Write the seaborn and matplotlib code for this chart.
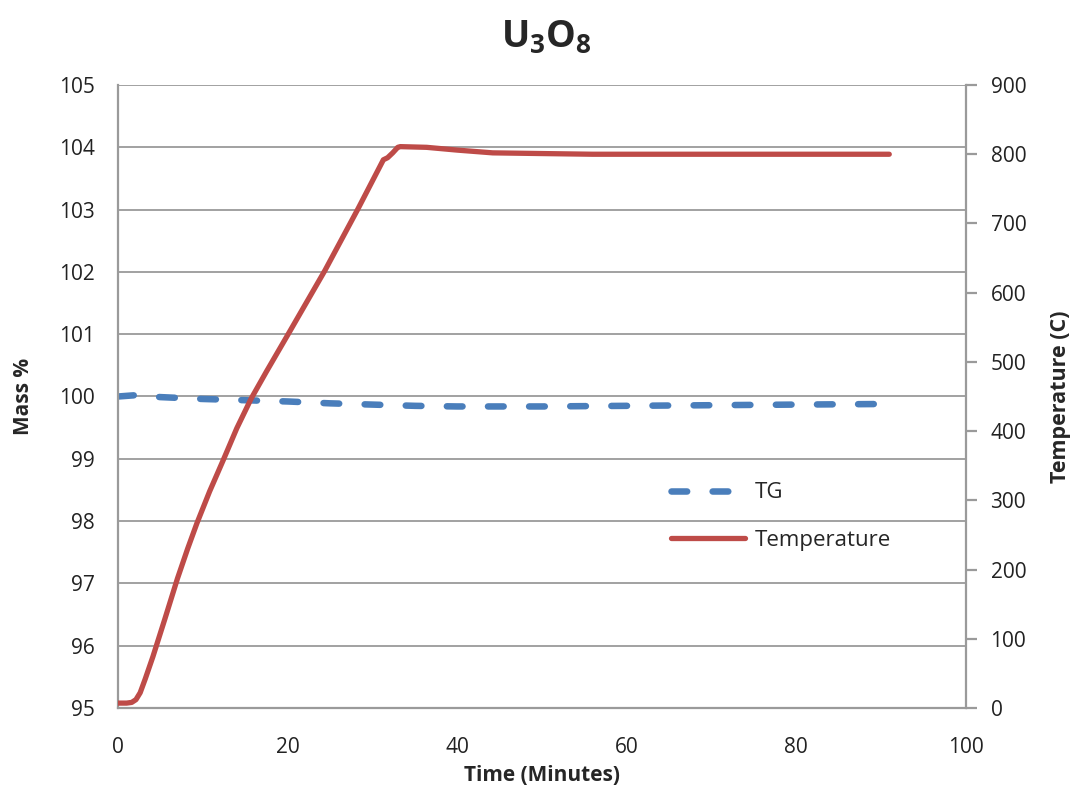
import numpy as np
import pandas as pd
from matplotlib import pyplot as plt
import seaborn as sns

# values
time_temp = [0, 1.0, 1.6, 2.1, 2.6, 3.2, 4.1, 5.5, 7.0, 8.2, 9.3, 10.8, 12.4, 14.0, 15.7,
             17.5, 20.3, 24.4, 28.3, 31.3, 31.8, 32.4, 33.0, 33.3, 36.4, 40.0, 44.2, 50.0,
             56.0, 70.0, 80.0, 91.0]
temperature = [7, 7, 8, 12, 22, 42, 74, 128, 187, 230, 267, 313, 358, 404, 447,
               486, 545, 632, 721, 792, 795, 802, 810, 811, 810, 806, 802, 801,
               800, 800, 800, 800]

time_tg = [0, 2, 5, 10, 15, 20, 25, 30, 35, 40, 50, 60, 70, 80, 91]
mass_pct = [100.0, 100.02, 99.99, 99.96, 99.94, 99.92, 99.89, 99.87, 99.85, 99.84, 99.84, 99.85, 99.86, 99.87, 99.88]

mass_ticks = [95, 96, 97, 98, 99, 100, 101, 102, 103, 104, 105]
temp_ticks = [0, 100, 200, 300, 400, 500, 600, 700, 800, 900]
time_ticks = [0, 20, 40, 60, 80, 100]

sns.set_style("white")
plt.rcParams['font.family'] = ['Open Sans', 'DejaVu Sans']

tg = pd.DataFrame({"time": time_tg, "mass": mass_pct})
tc = pd.DataFrame({"time": time_temp, "temp": temperature})

fig = plt.figure(figsize=(10.74, 7.91), dpi=100)
ax = fig.add_axes([0.110, 0.105, 0.789, 0.7875])
ax2 = ax.twinx()

grid_col = "#9a9a9a"
sns.lineplot(data=tg, x="time", y="mass", ax=ax, color="#4a7ebb", linewidth=4.7,
             label="TG", legend=False)
ax.lines[0].set_dashes([2.4, 3.9])
ax.lines[0].set_dash_capstyle("round")
sns.lineplot(data=tc, x="time", y="temp", ax=ax2, color="#be4b48", linewidth=3.8,
             label="Temperature", legend=False)

ax.set_xlim(0, 100)
ax.set_ylim(95, 105)
ax2.set_ylim(0, 900)
ax.set_xticks(time_ticks)
ax.set_yticks(mass_ticks)
ax2.set_yticks(temp_ticks)
ax.yaxis.grid(True, color=grid_col, linewidth=1.3)
ax.set_axisbelow(True)

for a in (ax, ax2):
    for s in a.spines.values():
        s.set_visible(False)
ax.spines["left"].set_visible(True)
ax.spines["bottom"].set_visible(True)
ax2.spines["right"].set_visible(True)
for s in (ax.spines["left"], ax.spines["bottom"], ax2.spines["right"]):
    s.set_color(grid_col)
    s.set_linewidth(1.6)

ax.tick_params(axis="y", labelsize=15, labelcolor="#222222", length=0, pad=17)
ax.tick_params(axis="x", labelsize=15, labelcolor="#222222", length=0, pad=21)
ax2.tick_params(axis="y", labelsize=15, labelcolor="#222222", length=8, width=1.6,
                direction="out", pad=10, color=grid_col)

ax.set_xlabel("Time (Minutes)", fontsize=15, fontweight="bold", labelpad=5)
ax.set_ylabel("Mass %", fontsize=15, fontweight="bold", labelpad=18)
ax2.set_ylabel("Temperature (C)", fontsize=15.5, fontweight="bold", labelpad=17)

fig.text(0.509, 0.952, r"U$_\mathregular{3}$O$_\mathregular{8}$", ha="center", va="center",
         fontsize=27, fontweight="bold")

h1, l1 = ax.get_legend_handles_labels()
h2, l2 = ax2.get_legend_handles_labels()
ax2.legend(h1 + h2, l1 + l2, loc="upper left", bbox_to_anchor=(0.653, 0.362), frameon=False,
           fontsize=16, handlelength=3.3, labelspacing=1.18, handletextpad=0.45,
           borderpad=0, borderaxespad=0)

fig.savefig("out.png", dpi=100)
